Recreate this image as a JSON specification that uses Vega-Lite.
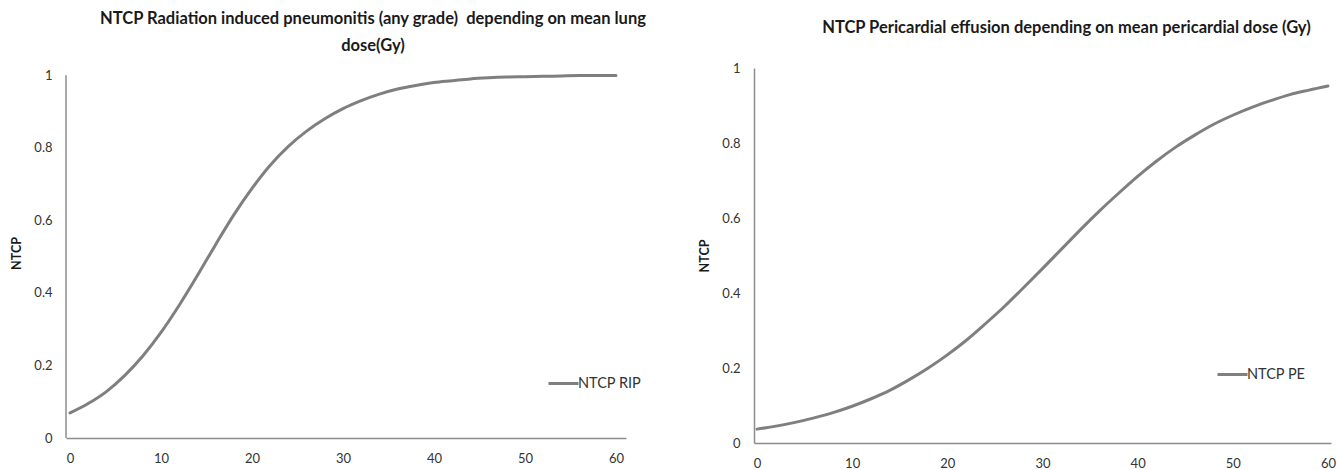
{
  "$schema": "https://vega.github.io/schema/vega-lite/v6.json",
  "autosize": {"type": "pad"},
  "padding": {"left": 10, "top": 10, "right": 0, "bottom": 0},
  "datasets": {
    "rip": [
      {"dose": 0, "ntcp": 0.069, "series": "NTCP RIP"},
      {"dose": 2, "ntcp": 0.095, "series": "NTCP RIP"},
      {"dose": 4, "ntcp": 0.128, "series": "NTCP RIP"},
      {"dose": 6, "ntcp": 0.172, "series": "NTCP RIP"},
      {"dose": 8, "ntcp": 0.226, "series": "NTCP RIP"},
      {"dose": 10, "ntcp": 0.291, "series": "NTCP RIP"},
      {"dose": 12, "ntcp": 0.366, "series": "NTCP RIP"},
      {"dose": 14, "ntcp": 0.448, "series": "NTCP RIP"},
      {"dose": 16, "ntcp": 0.533, "series": "NTCP RIP"},
      {"dose": 18, "ntcp": 0.615, "series": "NTCP RIP"},
      {"dose": 20, "ntcp": 0.688, "series": "NTCP RIP"},
      {"dose": 22, "ntcp": 0.752, "series": "NTCP RIP"},
      {"dose": 24, "ntcp": 0.804, "series": "NTCP RIP"},
      {"dose": 26, "ntcp": 0.846, "series": "NTCP RIP"},
      {"dose": 28, "ntcp": 0.880, "series": "NTCP RIP"},
      {"dose": 30, "ntcp": 0.908, "series": "NTCP RIP"},
      {"dose": 32, "ntcp": 0.930, "series": "NTCP RIP"},
      {"dose": 34, "ntcp": 0.948, "series": "NTCP RIP"},
      {"dose": 36, "ntcp": 0.962, "series": "NTCP RIP"},
      {"dose": 38, "ntcp": 0.972, "series": "NTCP RIP"},
      {"dose": 40, "ntcp": 0.980, "series": "NTCP RIP"},
      {"dose": 42, "ntcp": 0.985, "series": "NTCP RIP"},
      {"dose": 44, "ntcp": 0.990, "series": "NTCP RIP"},
      {"dose": 46, "ntcp": 0.993, "series": "NTCP RIP"},
      {"dose": 48, "ntcp": 0.995, "series": "NTCP RIP"},
      {"dose": 50, "ntcp": 0.996, "series": "NTCP RIP"},
      {"dose": 52, "ntcp": 0.997, "series": "NTCP RIP"},
      {"dose": 54, "ntcp": 0.998, "series": "NTCP RIP"},
      {"dose": 56, "ntcp": 0.999, "series": "NTCP RIP"},
      {"dose": 58, "ntcp": 0.999, "series": "NTCP RIP"},
      {"dose": 60, "ntcp": 0.999, "series": "NTCP RIP"}
    ],
    "pe": [
      {"dose": 0, "ntcp": 0.037, "series": "NTCP PE"},
      {"dose": 2, "ntcp": 0.045, "series": "NTCP PE"},
      {"dose": 4, "ntcp": 0.055, "series": "NTCP PE"},
      {"dose": 6, "ntcp": 0.067, "series": "NTCP PE"},
      {"dose": 8, "ntcp": 0.081, "series": "NTCP PE"},
      {"dose": 10, "ntcp": 0.098, "series": "NTCP PE"},
      {"dose": 12, "ntcp": 0.118, "series": "NTCP PE"},
      {"dose": 14, "ntcp": 0.141, "series": "NTCP PE"},
      {"dose": 16, "ntcp": 0.169, "series": "NTCP PE"},
      {"dose": 18, "ntcp": 0.200, "series": "NTCP PE"},
      {"dose": 20, "ntcp": 0.235, "series": "NTCP PE"},
      {"dose": 22, "ntcp": 0.274, "series": "NTCP PE"},
      {"dose": 24, "ntcp": 0.318, "series": "NTCP PE"},
      {"dose": 26, "ntcp": 0.364, "series": "NTCP PE"},
      {"dose": 28, "ntcp": 0.414, "series": "NTCP PE"},
      {"dose": 30, "ntcp": 0.465, "series": "NTCP PE"},
      {"dose": 32, "ntcp": 0.517, "series": "NTCP PE"},
      {"dose": 34, "ntcp": 0.569, "series": "NTCP PE"},
      {"dose": 36, "ntcp": 0.619, "series": "NTCP PE"},
      {"dose": 38, "ntcp": 0.666, "series": "NTCP PE"},
      {"dose": 40, "ntcp": 0.711, "series": "NTCP PE"},
      {"dose": 42, "ntcp": 0.752, "series": "NTCP PE"},
      {"dose": 44, "ntcp": 0.789, "series": "NTCP PE"},
      {"dose": 46, "ntcp": 0.821, "series": "NTCP PE"},
      {"dose": 48, "ntcp": 0.850, "series": "NTCP PE"},
      {"dose": 50, "ntcp": 0.874, "series": "NTCP PE"},
      {"dose": 52, "ntcp": 0.895, "series": "NTCP PE"},
      {"dose": 54, "ntcp": 0.913, "series": "NTCP PE"},
      {"dose": 56, "ntcp": 0.929, "series": "NTCP PE"},
      {"dose": 58, "ntcp": 0.941, "series": "NTCP PE"},
      {"dose": 60, "ntcp": 0.952, "series": "NTCP PE"}
    ]
  },
  "bounds": "flush",
  "spacing": 128,
  "resolve": {
    "scale": {"x": "independent", "y": "independent", "color": "independent"},
    "legend": {"color": "independent"}
  },
  "hconcat": [
    {
      "width": 560,
      "height": 370,
      "title": {
        "text": ["NTCP Radiation induced pneumonitis (any grade)\u00a0 depending on mean lung", "dose(Gy)"],
        "dx": 27,
        "offset": 14
      },
      "layer": [
        {
          "data": {"values": [{}]},
          "mark": {"type": "rule", "color": "#8c8c8c", "strokeWidth": 1.5},
          "encoding": {
            "x": {"datum": -0.44, "type": "quantitative"},
            "y": {"datum": 0, "type": "quantitative"},
            "y2": {"datum": 1}
          }
        },
        {
          "data": {"name": "rip"},
          "mark": {"type": "line", "interpolate": "monotone", "strokeWidth": 3, "strokeCap": "round"},
          "encoding": {
            "x": {
              "field": "dose",
              "type": "quantitative",
              "scale": {"domain": [-0.44, 61.1], "nice": false, "zero": false},
              "axis": {"values": [0, 10, 20, 30, 40, 50, 60], "title": null}
            },
            "y": {
              "field": "ntcp",
              "type": "quantitative",
              "scale": {"domain": [0, 1.02], "nice": false},
              "axis": {"values": [0, 0.2, 0.4, 0.6, 0.8, 1], "format": "~g", "title": "NTCP", "domain": false}
            },
            "color": {
              "field": "series",
              "type": "nominal",
              "scale": {"range": ["#7f7f7f"]},
              "legend": {"title": null, "orient": "none", "legendX": 481, "legendY": 299}
            }
          }
        }
      ]
    },
    {
      "width": 577,
      "height": 375,
      "title": {
        "text": "NTCP Pericardial effusion depending on mean pericardial dose (Gy)",
        "dx": 24,
        "offset": 26
      },
      "data": {"name": "pe"},
      "mark": {"type": "line", "interpolate": "monotone", "strokeWidth": 3, "strokeCap": "round"},
      "encoding": {
        "x": {
          "field": "dose",
          "type": "quantitative",
          "scale": {"domain": [-0.315, 60.32], "nice": false, "zero": false},
          "axis": {"values": [0, 10, 20, 30, 40, 50, 60], "title": null}
        },
        "y": {
          "field": "ntcp",
          "type": "quantitative",
          "scale": {"domain": [0, 1], "nice": false},
          "axis": {"values": [0, 0.2, 0.4, 0.6, 0.8, 1], "format": "~g", "title": "NTCP"}
        },
        "color": {
          "field": "series",
          "type": "nominal",
          "scale": {"range": ["#7f7f7f"]},
          "legend": {"title": null, "orient": "none", "legendX": 462, "legendY": 290}
        }
      }
    }
  ],
  "config": {
    "view": {"stroke": null},
    "font": "Lato",
    "axis": {
      "grid": false,
      "ticks": false,
      "domainColor": "#8c8c8c",
      "domainWidth": 1.5,
      "labelFont": "Lato",
      "labelFontSize": 13,
      "labelColor": "#333333",
      "labelPadding": 14,
      "titleFont": "Lato",
      "titleFontSize": 12.5,
      "titleFontWeight": "bold",
      "titleColor": "#1a1a1a",
      "titlePadding": 10
    },
    "title": {
      "font": "Lato",
      "fontSize": 16.5,
      "fontWeight": "bold",
      "color": "#1a1a1a",
      "anchor": "middle",
      "lineHeight": 27
    },
    "legend": {
      "labelFont": "Lato",
      "labelFontSize": 14.5,
      "labelColor": "#333333",
      "symbolType": "stroke",
      "symbolStrokeWidth": 3,
      "symbolSize": 900,
      "labelOffset": -2,
      "padding": 0
    }
  }
}
